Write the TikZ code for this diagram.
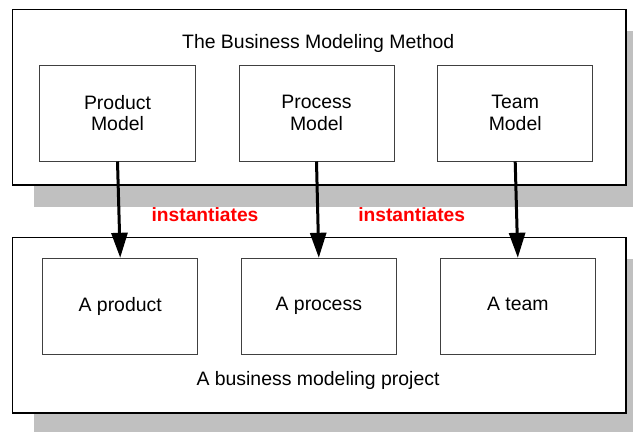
\documentclass[tikz,border=0pt]{standalone}
\usepackage{fontspec}
\setmainfont{Liberation Sans}
\usetikzlibrary{arrows.meta}
\definecolor{shadowgray}{HTML}{C0C0C0}
\tikzset{
outerbox/.style={draw=black, line width=1.2bp, fill=white, minimum width=613.5bp, minimum height=175.5bp, inner sep=0pt},
modelbox/.style={draw=black!75, line width=1bp, fill=white, minimum width=155bp, minimum height=96bp, align=center, inner sep=0pt, font=\fontsize{19.5}{21.7}\selectfont},
boxtitle/.style={font=\fontsize{19.5}{22}\selectfont, anchor=base, inner sep=0pt},
redword/.style={font=\fontsize{19.3}{22}\selectfont\bfseries, text=red, anchor=base, inner sep=0pt},
instarrow/.style={line width=3bp, -{Triangle[width=16bp,length=25bp]}}
}
\begin{document}
\begin{tikzpicture}[x=1bp,y=-1bp]
\useasboundingbox (0,0) rectangle (633,432);
% shadows
\fill[shadowgray] (34,31) rectangle (633,207);
\fill[shadowgray] (34,259) rectangle (633,432);

% the method
\node[outerbox] (method) at (319.25,97.25) {};
\node[boxtitle] (methodtitle) at (318.2,48.3) {The Business Modeling Method};
\node[modelbox] (prodmodel) at (117.5,113) {Product\\Model};
\node[modelbox] (procmodel) at (316.5,113) {Process\\Model};
\node[modelbox] (teammodel) at (515.2,113) {Team\\Model};

% the project
\node[outerbox] (project) at (319.25,325.2) {};
\node[boxtitle] (projecttitle) at (318,385.7) {A business modeling project};
\node[modelbox] (aproduct) at (120.2,306.3) {A product};
\node[modelbox] (aprocess) at (318.8,306.3) {A process};
\node[modelbox] (ateam) at (517.8,306.3) {A team\vphantom{p}};

\draw[instarrow] (prodmodel.south) -- (aproduct.north);
\draw[instarrow] (procmodel.south) -- (aprocess.north);
\draw[instarrow] (teammodel.south) -- (ateam.north);

\node[redword] (inst1) at (205,221.7) {instantiates};
\node[redword] (inst2) at (411.7,221.7) {instantiates};
\end{tikzpicture}
\end{document}
